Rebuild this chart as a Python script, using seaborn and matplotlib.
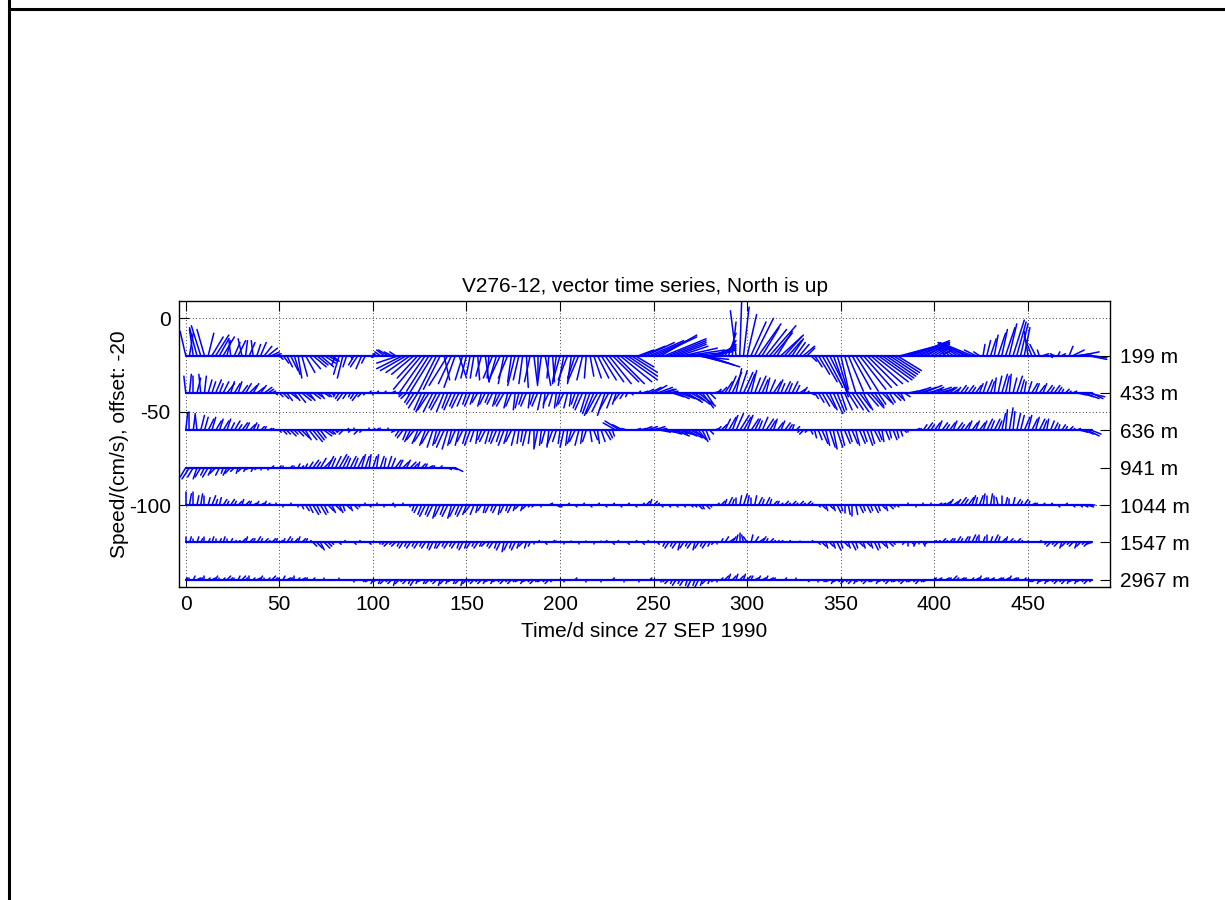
import numpy as np
import pandas as pd
import matplotlib
matplotlib.use("Agg")
import matplotlib.pyplot as plt
import seaborn as sns
from matplotlib.lines import Line2D

# Mooring V276-12: current vectors (east u, north v, cm/s) every 2 days
depths = ["199 m", "433 m", "636 m", "941 m", "1044 m", "1547 m", "2967 m"]
offsets = [-20, -40, -60, -80, -100, -120, -140]
step_days = 2
xticks = [0, 50, 100, 150, 200, 250, 300, 350, 400, 450]
yticks = [0, -50, -100]

u_199 = [-3, 2, -2, -4, -5,
         -4, 3, 6, 7, 5, 6,
         2, -1, 3, 4, -2, 1, 3, -1, 2, 3,
         4, 5, 4, 3,
         2, 3, 3, 4, 3, 2, 3, 5, 6, 7, 6, 7, 6, 5, 4, -2,
         -3, -3, -2, 1, -3, -4, -3, -2, 2, 1,
         -2, -3, -4, -5, -4, -3, -12, -14,
         -14, -13, -12, -11,
         -15, -14, -12, -13, -10, -9, 3, -10, -7, -6, 4, -4, -3, -2,
         -2, 1, -3, 2, -1,
         -5, -4, -6, -3, -5, -2, -4, -3,
         -2, 1, -3, 2, 0, -2, 3, -1, 1, -2,
         -4, -3, -5, -2, -4, -6, -3, -1, 2, 4,
         6, 8, 10, 12, 14, 15, 17, 18, 16, 14, 10,
         8, 12, 15, 18, 20, 21, 19, 22, 20, 18, 16, 15,
         18, 20, 22, 18, 16, 20, 15, 14, 12, 10, 8, 6,
         4, 2, -3, 1, 3, 5,
         8, 10, 12, 9, 11, 14, 10, 8, 12, 9, 7, 6, 5,
         5, 6, 4, 3,
         4, 6, 8, 9, 10, 8, 6, 4,
         6, 8, 10, 12, 14, 15, 16, 17, 18, 18, 17, 16, 15, 14, 13,
         26, 24, 22, 20, 18, 16, 14, 12, 10, 8, 6, 5,
         -4, -6, -8, -10, -12, -13, -14, -12, -6, -3,
         1, 2, 3, 2, 4, 3, 5, 4, 6, 5, 4, 3, -2, -4, -3, -1,
         3, 2, 1, -2, 1, 2, 3,
         2, 6, 8, 10, 12, 10, 8]
v_199 = [13, 12, 14, 15, 16,
         14, 12, 10, 11, 9, 10,
         8, 9, 7, 8, 9, 8, 7, 8, 6, 7,
         5, 4, 2, 1,
         -2, -4, -6, -8, -10, -12, -11, -9, -7, -6, -5, -6, -4, -3, -3, -5,
         -10, -12, -6, -2, -5, -6, -7, -4, -1, 1,
         1, 2, 3, 3, 2, 2, -4, -7,
         -8, -9, -10, -12,
         -18, -20, -19, -21, -20, -18, -13, -16, -15, -17, -12, -13, -12, -10,
         -12, -13, -11, -14, -12,
         -12, -14, -13, -15, -12, -14, -16, -13,
         -15, -17, -14, -16, -13, -15, -16, -12, -14, -15,
         -14, -16, -13, -15, -12, -14, -13, -12, -11, -12,
         -12, -13, -14, -15, -14, -15, -14, -13, -11, -9, -6,
         3, 5, 7, 8, 9, 10, 11, 9, 8, 7, 6, 5,
         4, 3, 2, -2, -4, -6, -5, 3, 5, 4, 6, 8,
         12, 18, 24, 29, 26, 22,
         18, 20, 17, 15, 14, 16, 12, 13, 11, 10, 8, 9, 7,
         6, 5, 4, -3,
         -6, -10, -14, -17, -20, -22, -20, -18,
         -20, -19, -18, -19, -18, -17, -16, -15, -14, -13, -12, -11, -10, -9, -8,
         7, 7, 7, 8, 7, 7, 6, 7, 6, 5, 4, 3,
         4, 5, 6, 7, 7, 7, 6, 5, 3, 2,
         6, 8, 9, 11, 12, 14, 15, 17, 19, 18, 17, 15, 13, 10, 6, 3,
         1, 0, -1, 1, 2, 1, 0,
         5, 3, 1, 2, -1, -2, -1]

u_433 = [-1, 1, 0, 2, -1, 1, 2,
         2, 3, 2, 3, 4, 2, 3, 2, 3,
         3, 4, 3, 4, 3, 4, 3, 2,
         1, 2, 3, 3, 4, 3, 4, 5, 4, 3, 4, 3, 2, 3, 2, 1, -1,
         -2, -3, -2, -1, -2, -3, -2, -1, 1, 0,
         1, 2, 1, -1, 2, 1, 0, -2, -3,
         -3, -4, -5, -4, -5, -6, -5, -4, -5, -4, -3, -4, -3, -4, -3, -2, -3,
         -2, -3, -2, -3, -2,
         -3, -2, -3, -4, -2, -3, -1, -2,
         -2, -3, -1, -2, -3, -2, -1, -3, -2, -1, -2, -3, -2, -1, -2, -3, -4, -3,
         -4, -5, -6, -5, -4, -5, -3, -2, -3, -2, -1,
         1, 2, 1, 3, 4,
         6, 7, 8, 7, 6, 5,
         6, 7, 8, 9, 8, 7, 8, 9, 6, 4,
         3, 4, 2, 3, 4,
         4, 5, 3, 4, 5, 4, 3,
         3, 4, 3, 2, 3, 4, 3, 2, 3, 2, 3, 2,
         3, 2, 1, 2,
         2, 3, 4, 5, 4, 5, 4, 3,
         4, 5, 6, 7, 6, 5, 6, 7, 5, 4, 5, 4, 3, 4, 3, 2, 3,
         5, 7, 8, 9, 10, 8, 7, 9, 8, 6, 5, 4, 3,
         2, 3, 2, 3, 2, 3, 2,
         2, 3, 2, 1, 2, 3, 2, 1, 2, 3, 2, 1,
         2, 3, 2, 3, 2, 3, 2, 3, 2, 1, 2, 1, 2,
         5, 7, 8, 9, 6]
v_433 = [9, 10, 9, 8, 10, 9, 7,
         6, 7, 5, 6, 5, 6, 5, 6, 4,
         5, 4, 5, 3, 4, 3, 2, 1,
         -1, -2, -3, -4, -3, -4, -5, -4, -3, -4, -3, -2, -3, -2, -2, -1, -2,
         -3, -4, -3, -2, -3, -4, -2, -1, 1, -1,
         1, 0, 1, 0, 1, 0, -1, -2, -3,
         -5, -6, -8, -9, -10, -9, -10, -8, -9, -10, -8, -9, -7, -8, -7, -6, -7,
         -6, -5, -7, -6, -5,
         -6, -7, -6, -7, -8, -7, -9, -8,
         -6, -7, -8, -6, -7, -9, -8, -6, -7, -8, -7, -6, -8, -7, -6, -8, -9, -10,
         -11, -12, -11, -10, -12, -9, -8, -6, -4, -3, -2,
         -1, 0, 1, 1, 2,
         3, 4, 3, 2, 2, 1,
         -2, -3, -3, -4, -5, -4, -6, -7, -8, -6,
         -3, 1, 2, 3, 6,
         9, 11, 13, 12, 11, 10, 12,
         8, 9, 7, 8, 7, 6, 7, 5, 6, 5, 6, 4,
         2, 3, 1, -1,
         -3, -5, -7, -8, -9, -11, -10, -9,
         -9, -8, -9, -10, -8, -9, -7, -8, -7, -6, -5, -6, -5, -4, -3, -4, -2,
         1, 2, 3, 3, 4, 2, 3, 3, 2, 2, 3, 3, 2,
         3, 4, 3, 4, 3, 4, 5,
         6, 7, 6, 8, 9, 10, 9, 10, 8, 9, 7, 6,
         6, 5, 5, 4, 5, 4, 3, 4, 3, 2, 2, 1, 1,
         -1, -2, -3, -2, -3]

u_636 = [1, 0, 1, -1, 2,
         2, 3, 2, 3, 2, 3, 2,
         2, 3, 2, 3, 2, 3, 2, 1,
         2, 1, 2, 1, 1,
         1, 2, 2, 3, 2, 3, 4, 3, 4, 5, 4, 3, 4, 3, 2, 1,
         -1, -2, 1, -1, 0, -2, -1, 1, 0, 1,
         1, 0, 1, 0, -1, -2,
         -2, -3, -2, -3, -4, -3, -4, -3, -4, -3, -2, -3, -4, -3, -2, -3, -2, -3, -2, -3, -2, -1, -2, -3, -2,
         -2, -3, -2, -3, -2, -3, -2, -1,
         -1, -2, -1, 0, -2, -1, -2, -1, -3, -2, -1, -2, -1, -2, -3, -2, -1, -2,
         1, 2, 1, 2, 3, 2, 1,
         -7, -8, -6, -3,
         2, 3, 4, 5, 6, 5, 6, 5,
         5, 6, 7, 8, 7, 6, 7, 8, 6, 5, 4, 3, 2,
         2, 3, 2, 3,
         3, 4, 3, 4, 5, 4, 3, 4,
         3, 2, 3, 4, 3, 2, 3, 2, 3, 2, 1, 2,
         -1, -2, -1, 1,
         1, 2, 3, 2, 3, 2, 3, 2, 3,
         2, 3, 2, 3, 2, 3, 2, 3, 2, 1, 2, 1, 2, 1, 1,
         1, 0, 1, 2, 1,
         2, 3, 2, 3, 2, 3, 2, 3, 2, 3, 2, 3, 2, 3, 2, 3, 2, 3, 2, 3, 2,
         2, 1, 2, 1, 2,
         2, 3, 2, 3, 2, 3, 2, 1, 2,
         2, 1, 2, 1, 2, 1, 2,
         4, 5, 6, 5]
v_636 = [9, 10, 8, 9, 8,
         7, 6, 7, 5, 6, 5, 6,
         4, 5, 3, 4, 4, 3, 4, 3,
         2, 2, 1, 1, 0,
         -1, -2, -2, -3, -2, -3, -4, -5, -5, -6, -5, -4, -3, -2, -2, -1,
         -1, -2, 1, -1, 1, -2, -1, 0, 1, 1,
         1, 1, 0, 1, 0, -1,
         -3, -4, -5, -6, -5, -7, -6, -8, -7, -9, -8, -7, -9, -10, -8, -7, -8, -6, -7, -8, -6, -7, -5, -6, -7,
         -6, -7, -6, -8, -7, -6, -8, -7,
         -6, -8, -7, -9, -10, -8, -7, -9, -8, -6, -7, -9, -8, -7, -6, -8, -7, -6,
         -6, -5, -7, -6, -5, -4, -3,
         4, 5, 3, 1,
         0, 1, 1, 2, 2, 1, 2, 1,
         -1, -1, -2, -2, -3, -2, -3, -4, -3, -4, -5, -6, -5,
         -2, 1, 2, 3,
         6, 7, 8, 9, 8, 7, 8, 6,
         6, 5, 7, 6, 5, 6, 4, 5, 4, 3, 3, 2,
         -1, -2, -1, -2,
         -4, -5, -7, -8, -9, -10, -9, -8, -7,
         -6, -7, -8, -7, -6, -8, -7, -6, -5, -6, -5, -4, -5, -4, -3,
         -1, -1, 0, 1, 1,
         3, 4, 3, 4, 5, 4, 3, 4, 5, 4, 3, 4, 5, 4, 5, 4, 5, 6, 5, 6, 5,
         9, 11, 12, 10, 9,
         8, 7, 8, 6, 7, 6, 5, 6, 5,
         4, 3, 3, 2, 2, 1, 1,
         -1, -2, -3, -2]

u_941 = [-3, -4, -3, -2, -3, -2, -3,
         -2, -3, -2, -1, -2, -3, -2, -1, -2,
         -1, -2, -1, -1, 0, -1, 0,
         1, 0, 1, 0, 1, 1, 0, 1, 1,
         1, 2, 3, 2, 3, 4, 3, 2, 3, 4, 3, 2, 3, 2, 3, 2,
         2, 1, 2, 1, 2, 1, 2,
         2, 3, 2, 3, 2, 3, 2, 1, 2, 1, 2,
         1, 2, 1, 1, 2, 3, 4]
v_941 = [-5, -6, -5, -6, -5, -4, -5,
         -4, -3, -4, -3, -4, -3, -2, -3, -2,
         -2, -1, -2, -1, -1, 0, -1,
         1, 0, 1, 1, 0, 1, 1, 2, 1,
         2, 3, 4, 3, 5, 4, 6, 5, 6, 7, 6, 5, 6, 5, 6, 7,
         6, 7, 6, 7, 6, 5, 6,
         5, 4, 4, 3, 4, 3, 2, 3, 2, 2, 1,
         1, 0, 1, 0, -1, -1, -2]

u_1044 = [0, 1, 0, 1, 1, 0,
          1, 2, 1, 1, 2,
          1, 2, 1, 2, 1, 2, 1, 2, 1, 2, 1, 1,
          1, 0, 1, 0, -1, 0, 1, 0,
          1, 2, 2, 3, 2, 3, 2, 3, 2, 3, 2, 1, 2, 1, 2, 1,
          1, 0, 1, -1, 0, 1, 0, -1, 1, 0, 1, 0, -1, 0,
          -1, -2, -2, -3, -2, -3, -2, -3, -2, -3, -2, -3, -2, -3, -2, -3, -2, -1, -2, -1,
          -2, -1, -2, -1, -2, -1, -2, -1, -2, -1, -2, -1, -1,
          1, 0, 1, 2, 1, 2, 1, 0, 1, 2, 1, 0, 1, 2, 1, 0, 1, 2, 1, 0, 1, 2, 1, 0, 1, 2, 1, 0,
          1, 2, 1, 2, 1,
          1, 0, 1, 0, 1, 0, 1, 0, 1,
          1, 2, 1, 2, 1, 0,
          1, 2, 1, 2, 1, 0, 1, 2, 1, 0, 1, 2, 1, 2, 1, 2, 1,
          1, 2, 1, 2, 1, 2, 1, 2, 1, 1,
          1, 2, 1, 2, 1, 2, 1, 0, 1, 0, 1, 2, 1, 2, 1, 2, 1, 2, 1, 2, 1, 1, 0,
          1, 0, 1, 0, 1, 0, 1, 0, 1, 2,
          2, 3, 2, 3, 2, 3, 2, 3, 2, 1, 2, 1, 0, 1, 0, -1, 0, 1, 0, 1, 2, 1, 2, 1, 2,
          1, 2, 1, 2, 1, 2, 1, 2, 1, 2, 1, 2, 1, 2, 3, 2]
v_1044 = [7, 6, 7, 5, 6, 5,
          4, 5, 3, 4, 3,
          2, 3, 2, 2, 3, 2, 2, 1, 2, 1, 2, 1,
          0, 1, 0, -1, 0, 1, 0, -1,
          -2, -3, -4, -5, -4, -5, -4, -3, -4, -3, -4, -3, -2, -3, -2, -1,
          0, 1, -1, 0, 1, 0, -1, 0, 1, -1, 0, 1, 0, -1,
          -3, -4, -5, -6, -5, -6, -7, -6, -5, -6, -7, -6, -5, -6, -5, -4, -5, -4, -3, -4,
          -4, -3, -4, -5, -4, -3, -4, -3, -2, -3, -2, -1, -1,
          0, -1, 0, 1, 0, -1, -1, 0, 1, 0, -1, 0, 1, 0, -1, 0, 1, 0, -1, 0, 1, 0, -1, 0, 1, 0, -1, 0,
          1, 2, 3, 2, 1,
          -1, 0, -1, 0, -1, 0, -1, 0, -1,
          -1, -2, -2, -2, -1, 0,
          1, 2, 3, 4, 3, 4, 5, 6, 5, 4, 5, 4, 3, 4, 3, 2, 2,
          1, 2, 1, 2, 1, 2, 1, 2, 1, 0,
          -1, -2, -3, -2, -3, -4, -3, -4, -5, -6, -5, -4, -3, -4, -3, -4, -3, -2, -3, -2, -1, -1, 0,
          0, 1, 0, -1, 0, 1, 0, 1, 0, 1,
          1, 2, 3, 2, 3, 4, 3, 4, 5, 4, 5, 6, 5, 6, 5, 4, 5, 4, 3, 4, 3, 2, 3, 2, 1,
          1, 0, 1, 0, 1, 0, -1, 0, 1, 0, -1, 0, -1, -1, -1, 0]

u_1547 = [0, 1, 0, 1, 1, 0, 1, 1, 0, 1, 1, 0, 1, 1,
          1, 2, 1, 2, 1, 2, 1, 2, 1, 2, 1, 2, 1, 2, 1, 2, 1, 2, 1, 1,
          2, 3, 2, 3, 2, 1,
          0, 1, 0, -1, 0, 1, 0, -1, 0, 1, 0, 1, 0,
          -1, -2, -1, -2, -1, -2, -1, -2, -1, -2, -1, -2, -1, -2, -1, -2, -1, -2, -1, -2, -1, -2, -1, -2, -1, -2, -1, -2,
          -1, -2, -1, -2, -1, -2, -1, -2, -1, -2, -1, -1, 0,
          1, 0, 1, 0, 1, 0, -1, 0, 1, 0, 1, 0, 1, 0, -1, 0, 1, 0, 1, 0, 1, 0, -1, 0, 1, 0, 1, 0, 1, 0, -1, 0, 1, 0,
          -1, -2, -1, -2, -1, -2, -1, -2, -1, -2, -1, -2, -1, -1, 0,
          1, 2, 3, 2, 1, 0, -1, -2, 1, 2, 3, 2, 1, 2, 1, 1,
          1, 0, 1, 0, 1, 0, 1, 0, 1, 0,
          1, 2, 1, 2, 1, 2, 1, 2, 1, 2, 1, 2, 1, 2, 1, 2, 1, 2, 1, 2, 1,
          0, 1, -1, 0, 1, -1, 0, 1, -1, 0, 1,
          1, 2, 1, 2, 1, 2, 1, 2, 1, 2, 1, 0, 1, 0, 1, 2, 1, 2, 1, 2, 1, 2, 1,
          1, 0, 1, 0, 1, 0,
          -1, -2, -1, -2, -1, -2, -1, -2, -1, -2, -1, -2, -3]
v_1547 = [3, 3, 2, 3, 2, 3, 2, 3, 2, 2, 3, 2, 2, 1,
          1, 2, 3, 2, 2, 3, 2, 2, 1, 2, 2, 1, 2, 3, 2, 2, 3, 2, 2, 1,
          -2, -3, -4, -3, -2, -1,
          0, -1, 0, 1, 0, -1, 0, 1, 0, -1, 0, 0, -1,
          -1, -2, -1, -2, -2, -3, -2, -3, -2, -3, -2, -3, -3, -4, -3, -3, -2, -3, -2, -3, -3, -4, -3, -3, -2, -3, -2, -2,
          -2, -3, -3, -4, -5, -4, -3, -4, -3, -2, -3, -2, -1,
          1, 0, -1, 0, 1, 1, 0, -1, 0, 1, 0, -1, 0, 1, 0, -1, 0, 1, 1, 0, -1, 0, 1, 0, -1, 0, 1, 0, -1, 0, 1, 0, -1, 0,
          -2, -3, -2, -3, -4, -3, -2, -3, -4, -3, -2, -3, -2, -1, -1,
          2, 3, 2, 3, 4, 5, 4, 3, 4, 3, 2, 3, 2, 2, 1, 1,
          1, 0, 1, 0, 0, 1, 0, 0, 1, 0,
          -1, -2, -3, -2, -3, -4, -3, -2, -3, -4, -3, -2, -3, -2, -3, -4, -3, -2, -3, -2, -1,
          0, 0, -1, -2, -1, -2, -1, -2, -1, 0, 1,
          1, 2, 1, 2, 2, 3, 2, 3, 3, 4, 3, 4, 3, 4, 3, 4, 3, 2, 3, 2, 1, 2, 1,
          0, 1, 0, 0, 1, 0,
          -1, -2, -1, -2, -3, -2, -1, -2, -3, -2, -1, -2, -1]

u_2967 = [1, 0, 1, 2, 1, 0, 1, 2, 1, 0, 1, 2, 1, 0, 1, 2, 1, 0, 1, 2, 1, 0, 1, 2, 1, 0, 1, 2, 1, 0, 1, 2, 1, 0, 1,
          0, 1, 0, 1, 0, 1, 0, 1, 0, 1, 0, 1, 0,
          -1, -2, -1, -2, -1, -2, -1, -2, -1, -2,
          -1, -2, -1, -2, -1, -2, -1, -2, -1, -2,
          -1, -2, -1, -2, -1, -2, -1, -2, -1, -2,
          -1, -2, -1, -2, -1, -2, -1, -2, -1, -2,
          -1, -2, -1, -2, -1, -2, -1, -2, -1, -2,
          -1,
          0, 1, 0, 1, 0, 1, 0, 1, 0, 1, 0, 1, 0, 1, 0, 1, 0, 1, 0, 1, 0, 1, 0, 1, 0, 1, 0, 1, 0,
          -1, -2, -1, -2, -1, -2, -1, -2, -1, -2, -1, -2, -1, -1, 0,
          1, 2, 1, 2, 1, 2, 1, 2, 1, 2, 1, 2, 1, 2, 1, 1,
          0, 1, 0, 1, 0, 1, 0, 1, 0, 1, 0, 1,
          -1, -2, -1, -2, -1, -2, -1, -2, -1, -2, -1, -2, -1, -2, -1, -2, -1, -2, -1, -2, -1, -2, -1, -2, -1, -2, -1, -2, -1,
          1, 2, 1, 2, 1, 2, 1, 2, 1, 2, 1, 2, 1, 2, 1, 2, 1, 2, 1, 2, 1, 2, 1, 2, 1, 2,
          -1, -2, -1, -2, -1, -2, -1, -2, -1, -2, -1, -2, -1, -2, -1, -2, -1]
v_2967 = [1, 1, 2, 1, 1, 2, 1, 1, 2, 1, 1, 2, 1, 1, 2, 2, 1, 2, 1, 1, 2, 1, 1, 2, 1, 1, 2, 1, 1, 2, 1, 1, 1, 0, 1,
          0, 0, 1, 0, 0, 0, 1, 0, 0, 0, -1, 0, 0,
          -1, -1, -2, -1, -2, -2, -1, -2, -3, -2,
          -1, -2, -2, -3, -2, -1, -2, -2, -1, -2,
          -3, -2, -2, -1, -2, -2, -3, -2, -1, -2,
          -1, -2, -2, -1, -2, -1, -1, -2, -1, -2,
          -1, -1, -2, -1, -1, -2, -1, -1, -1, -2,
          -1,
          0, 0, -1, 0, 0, 1, 0, 0, -1, 0, 0, 0, -1, 0, 0, 1, 0, 0, -1, 0, 0, 0, -1, 0, 0, 1, 0, 0, -1,
          -1, -2, -2, -3, -2, -3, -3, -4, -3, -4, -3, -2, -2, -1, -1,
          1, 2, 3, 2, 3, 2, 3, 2, 2, 1, 2, 1, 2, 1, 1, 0,
          0, 1, 0, 0, 1, 0, 0, -1, 0, 0, -1, 0,
          -1, -1, -2, -1, -1, -2, -1, -2, -2, -1, -1, -2, -1, -1, -2, -1, -1, -2, -1, -1, -1, -2, -1, -1, -1, -2, -1, -1, 0,
          1, 1, 0, 1, 1, 2, 1, 1, 1, 0, 1, 1, 2, 1, 1, 1, 0, 1, 1, 1, 2, 1, 1, 0, 1, 0,
          -1, -1, -2, -1, -2, -1, -1, -2, -1, -2, -2, -1, -2, -1, -1, -2, -1]

series_u = [u_199, u_433, u_636, u_941, u_1044, u_1547, u_2967]
series_v = [v_199, v_433, v_636, v_941, v_1044, v_1547, v_2967]

# Long-form tables: every stick is a two-point segment from the depth's
# baseline (offset) to offset + (u, v); each depth also gets a baseline segment.
stick_rows, base_rows = [], []
seg = 0
for name, off, u, v in zip(depths, offsets, series_u, series_v):
    assert len(u) == len(v), (name, len(u), len(v))
    t = np.arange(len(u)) * step_days
    base_rows.append((t[0], off, name))
    base_rows.append((t[-1], off, name))
    for ti, ui, vi in zip(t, u, v):
        stick_rows.append((ti, off, name, seg))
        stick_rows.append((ti + ui, off + vi, name, seg))
        seg += 1
sticks = pd.DataFrame(stick_rows, columns=["day", "speed", "depth", "segment"])
baselines = pd.DataFrame(base_rows, columns=["day", "speed", "depth"])

sns.set_style("ticks")
plt.rcParams.update({
    "font.family": ["Liberation Sans", "DejaVu Sans"],
    "axes.unicode_minus": False,
    "text.color": "black",
    "axes.labelcolor": "black",
    "xtick.color": "black",
    "ytick.color": "black",
    "xtick.direction": "in",
    "ytick.direction": "in",
})

fig = plt.figure(figsize=(12.25, 9.0), dpi=100)
ax = fig.add_axes([179 / 1225, 1 - 586.7 / 900, (1110 - 179) / 1225, (586.7 - 300.7) / 900])

sns.lineplot(data=sticks, x="day", y="speed", units="segment", estimator=None,
             sort=False, color="#0000ff", linewidth=1.1, legend=False, ax=ax)
sns.lineplot(data=baselines, x="day", y="speed", units="depth", estimator=None,
             sort=False, color="#0000ff", linewidth=1.6, legend=False, ax=ax)

ax.set_xlim(-3.6, 493.8)
ax.set_ylim(-143.7, 9.4)
ax.set_xticks(xticks)
ax.set_yticks(yticks)
ax.grid(True, color="black", linestyle=(0, (1, 3)), linewidth=0.6)
ax.tick_params(axis="both", which="both", top=True, right=True, labelsize=15,
               length=7, width=0.8, color="black", pad=6)
for sp in ax.spines.values():
    sp.set_color("black")
    sp.set_linewidth(1.0)

ax.set_title("V276-12, vector time series, North is up", fontsize=15, pad=6)
ax.set_xlabel("Time/d since 27 SEP 1990", fontsize=15, labelpad=6)
ax.set_ylabel("Speed/(cm/s), offset: -20", fontsize=15, labelpad=0)

# depth labels on the right-hand side
ax2 = ax.twinx()
ax2.set_ylim(ax.get_ylim())
ax2.set_yticks(offsets)
ax2.set_yticklabels(depths)
ax2.tick_params(axis="y", direction="in", length=7, width=0.8, labelsize=15, pad=7)
ax2.grid(False)
for sp in ax2.spines.values():
    sp.set_visible(False)

# frame lines along the left and top of the figure
lw = 2.2
fig.add_artist(Line2D([9 / 1225, 9 / 1225], [0, 1], transform=fig.transFigure, color="black", lw=lw))
fig.add_artist(Line2D([9 / 1225, 1], [1 - 9 / 900, 1 - 9 / 900], transform=fig.transFigure, color="black", lw=lw))

fig.savefig("out.png", dpi=100, facecolor="white")
